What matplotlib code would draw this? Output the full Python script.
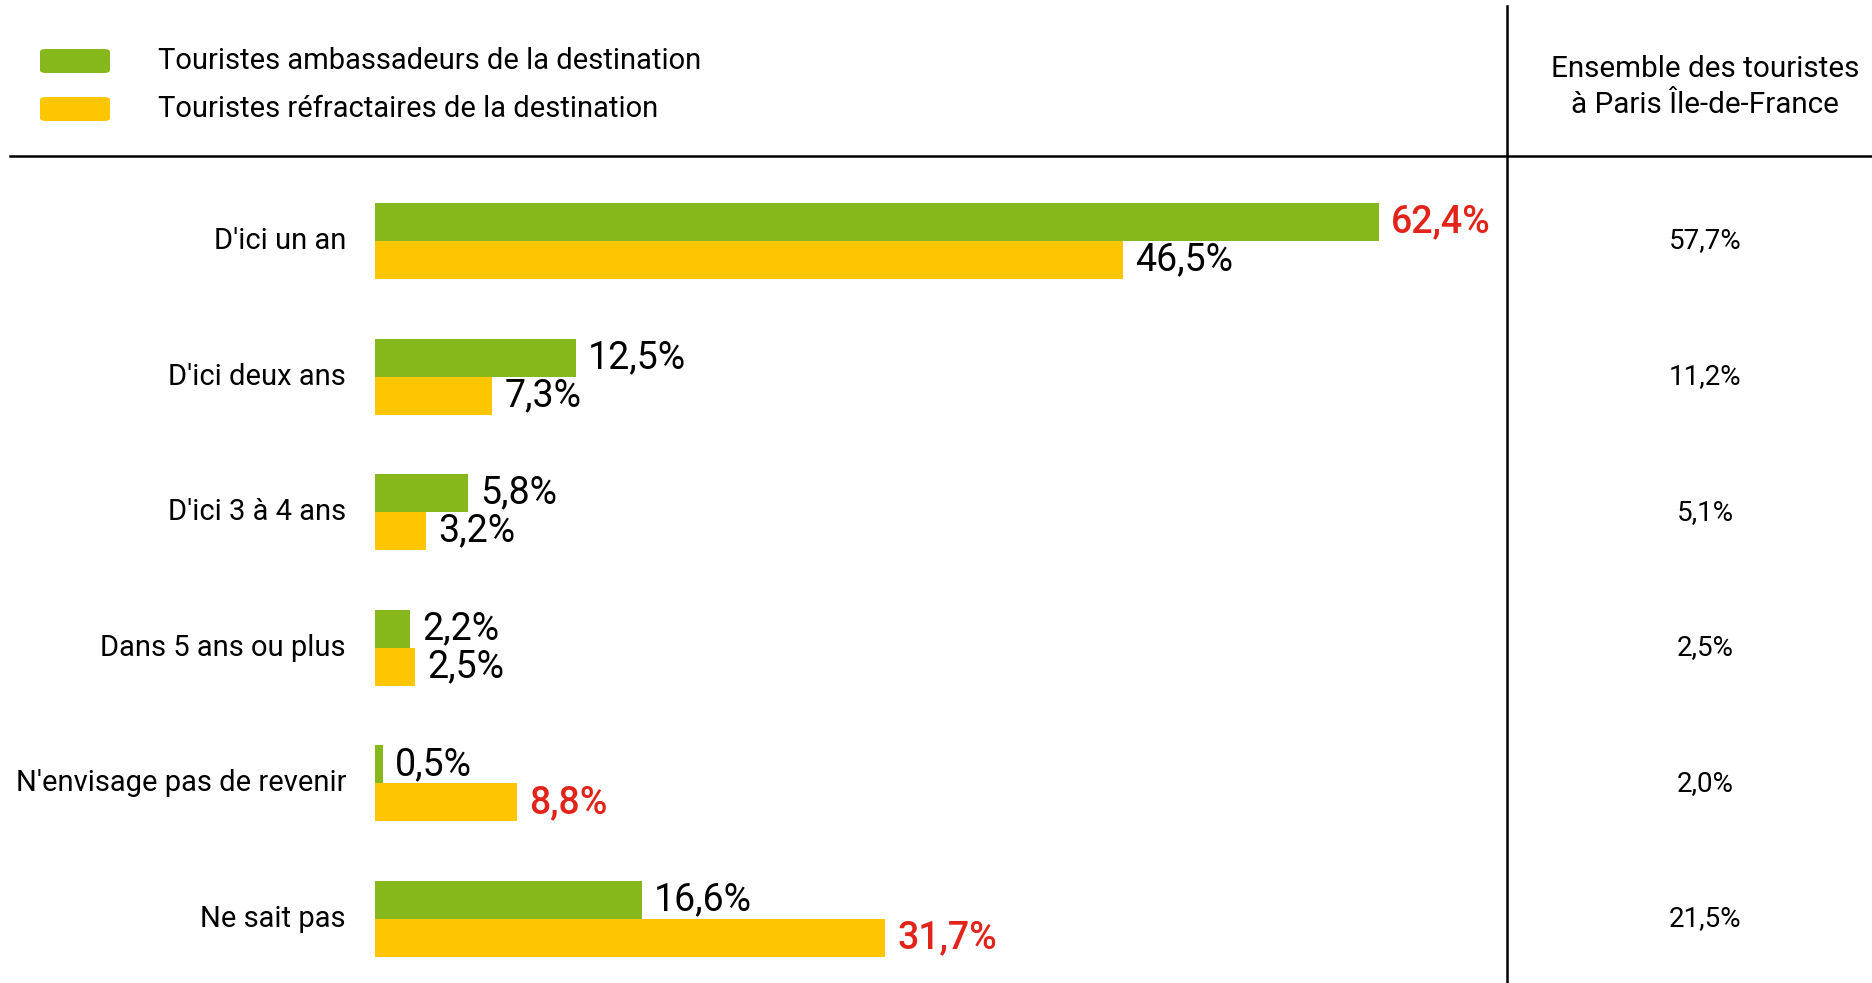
import matplotlib.pyplot as plt
from matplotlib.patches import FancyBboxPatch
from matplotlib.lines import Line2D
from matplotlib.transforms import blended_transform_factory

plt.rcParams['font.family'] = ['Roboto', 'DejaVu Sans']

# data
categories = ["D'ici un an", "D'ici deux ans", "D'ici 3 à 4 ans", "Dans 5 ans ou plus",
              "N'envisage pas de revenir", "Ne sait pas"]
ambassadeurs = [62.4, 12.5, 5.8, 2.2, 0.5, 16.6]
refractaires = [46.5, 7.3, 3.2, 2.5, 8.8, 31.7]
ensemble = [57.7, 11.2, 5.1, 2.5, 2.0, 21.5]
series_names = ["Touristes ambassadeurs de la destination",
                "Touristes réfractaires de la destination"]
header = "Ensemble des touristes\nà Paris Île-de-France"
highlight = {(0, 0), (1, 4), (1, 5)}  # (series, category) shown in red

green = '#86B81B'
yellow = '#FDC600'
red = '#E2231A'

W, H = 1872, 983
fig = plt.figure(figsize=(W / 100, H / 100), dpi=100)

# axes: x=0 at px 375, 16.09 px per percent, up to the vertical rule at px 1507
px_per = 16.09
x0, x1 = 375, 1507
y_top, y_bot = 156, 983
spacing = 135.6
first = 241
ax = fig.add_axes([x0 / W, 0, (x1 - x0) / W, (H - y_top) / H])
ax.set_xlim(0, (x1 - x0) / px_per)
ax.set_ylim((y_bot - first) / spacing, -(first - y_top) / spacing)
ax.axis('off')

bh = 38 / spacing
ypos = list(range(len(categories)))
ax.barh([y - bh / 2 for y in ypos], ambassadeurs, height=bh, color=green)
ax.barh([y + bh / 2 for y in ypos], refractaires, height=bh, color=yellow)

for s, vals in enumerate([ambassadeurs, refractaires]):
    for i, v in enumerate(vals):
        y = i - bh / 2 if s == 0 else i + bh / 2
        hl = (s, i) in highlight
        ax.text(v + 0.75, y, f"{v:.1f}%".replace('.', ','), va='center', ha='left',
                fontsize=27, color=red if hl else 'black',
                fontweight=500 if hl else 'normal')

# category labels
for i, c in enumerate(categories):
    ax.text(-29 / px_per, i, c, ha='right', va='center', fontsize=21, clip_on=False)

# right column
tr = blended_transform_factory(fig.transFigure, ax.transData)
for i, v in enumerate(ensemble):
    ax.text(1705 / W, i, f"{v:.1f}%".replace('.', ','), transform=tr,
            ha='center', va='center', fontsize=20)
fig.text(1705 / W, 1 - 87 / H, header, ha='center', va='center', fontsize=21.3,
         linespacing=1.4)

# rules
fig.add_artist(Line2D([10 / W, 1], [1 - y_top / H] * 2, color='black', lw=1.8,
                      transform=fig.transFigure))
fig.add_artist(Line2D([x1 / W] * 2, [0, 1 - 6 / H], color='black', lw=1.8,
                      transform=fig.transFigure))

# legend
for k, (name, col) in enumerate(zip(series_names, [green, yellow])):
    yc = 61 + k * 48
    fig.add_artist(FancyBboxPatch((40 / W, 1 - (yc + 12) / H), 70 / W, 24 / H,
                                  boxstyle='round,pad=0,rounding_size=0.003',
                                  transform=fig.transFigure, color=col, lw=0))
    fig.text(158 / W, 1 - yc / H, name, ha='left', va='center', fontsize=21)

fig.savefig('out.png', dpi=100)
